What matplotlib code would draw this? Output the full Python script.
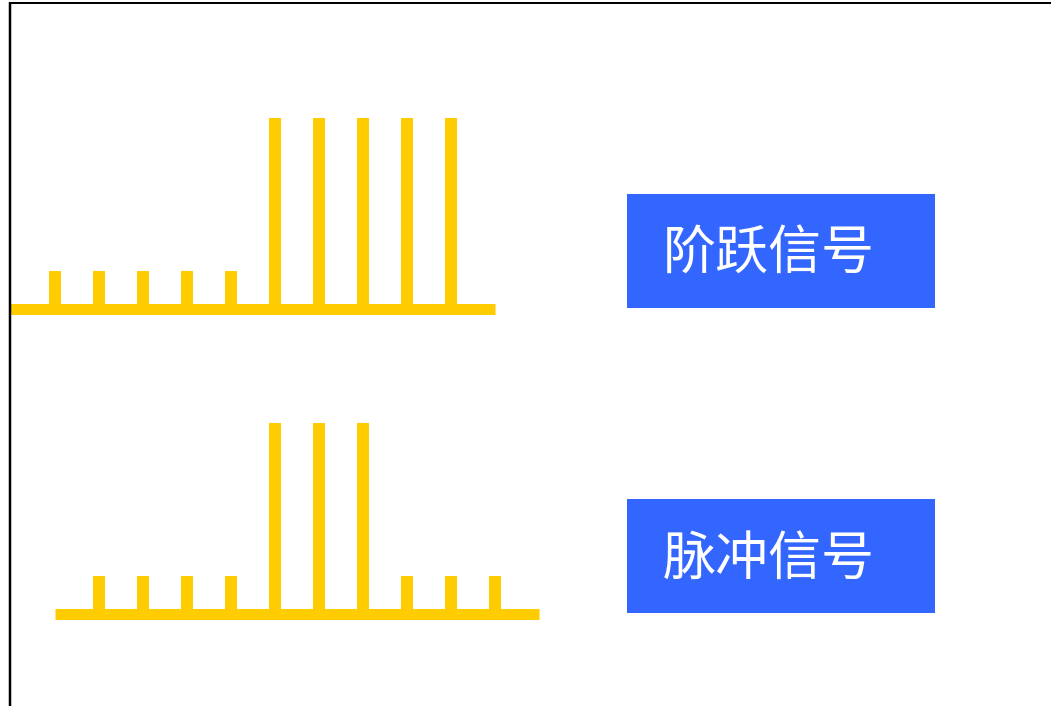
import matplotlib
matplotlib.use("Agg")
import matplotlib.pyplot as plt
from matplotlib.patches import Rectangle
from matplotlib.lines import Line2D

plt.rcParams['font.family'] = ['Noto Sans CJK SC', 'DejaVu Sans']

# ---- data ----
step_n = [0, 1, 2, 3, 4, 5, 6, 7, 8, 9]
step_vals = [0.2, 0.2, 0.2, 0.2, 0.2, 1.0, 1.0, 1.0, 1.0, 1.0]
pulse_n = [0, 1, 2, 3, 4, 5, 6, 7, 8, 9]
pulse_vals = [0.2, 0.2, 0.2, 0.2, 1.0, 1.0, 1.0, 0.2, 0.2, 0.2]
labels = ["阶跃信号", "脉冲信号"]

W, H = 1051, 706
DPI = 100
fig = plt.figure(figsize=(W / DPI, H / DPI), dpi=DPI)
fig.patch.set_facecolor("white")

YELLOW = "#FFCC00"
BLUE = "#3366FF"
px = 72.0 / DPI  # points per pixel

SP = 44.0     # pixels per sample
UNIT = 191.0  # pixels per unit amplitude


def signal_axes(x0_px, base_px):
    ax = fig.add_axes([0, 0, 1, 1])
    ax.set_xlim(-x0_px / SP, (W - x0_px) / SP)
    ax.set_ylim(-(H - base_px) / UNIT, base_px / UNIT)
    ax.axis("off")
    ax.patch.set_alpha(0)
    return ax


# step signal
ax1 = signal_axes(55, 309)
ax1.hlines(0, -1.02, 10.0, colors=YELLOW, lw=11 * px)
ax1.vlines(step_n, 0, step_vals, colors=YELLOW, lw=12 * px)

# pulse signal
ax2 = signal_axes(99, 614)
ax2.hlines(0, -1.0, 10.0, colors=YELLOW, lw=11 * px)
ax2.vlines(pulse_n, 0, pulse_vals, colors=YELLOW, lw=12 * px)

# label boxes (pixel-space axes)
axp = fig.add_axes([0, 0, 1, 1])
axp.set_xlim(0, W)
axp.set_ylim(H, 0)
axp.axis("off")
axp.patch.set_alpha(0)
for (top, lab) in zip([194, 499], labels):
    axp.add_patch(Rectangle((627, top), 308, 114, facecolor=BLUE, edgecolor="none"))
    axp.text(663, top + 60, lab, color="white", fontsize=53 * px,
             ha="left", va="center", fontweight="medium")

# border lines
axp.add_line(Line2D([9, W], [3, 3], color="black", lw=2 * px, solid_capstyle="butt"))
axp.add_line(Line2D([10, 10], [2, H], color="black", lw=2.5 * px, solid_capstyle="butt"))

fig.savefig("out.png", dpi=DPI)
